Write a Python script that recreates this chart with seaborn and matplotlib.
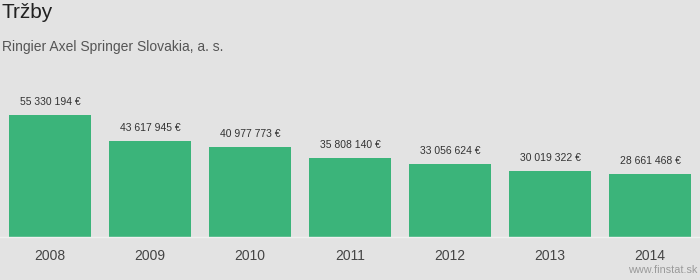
import matplotlib
matplotlib.use("Agg")
import matplotlib.pyplot as plt
import seaborn as sns
import pandas as pd

years = ["2008", "2009", "2010", "2011", "2012", "2013", "2014"]
revenues = [55330194, 43617945, 40977773, 35808140, 33056624, 30019322, 28661468]
value_labels = ["55 330 194 €", "43 617 945 €", "40 977 773 €", "35 808 140 €",
                "33 056 624 €", "30 019 322 €", "28 661 468 €"]
title = "Tržby"
subtitle = "Ringier Axel Springer Slovakia, a. s."
source = "www.finstat.sk"

bg = "#e3e3e3"
bar_color = "#3bb47a"

sns.set_theme(style="white")
plt.rcParams['font.family'] = ['Liberation Sans', 'DejaVu Sans']

df = pd.DataFrame({"year": years, "value": revenues})

fig = plt.figure(figsize=(7, 2.8), dpi=100, facecolor=bg)
ax = fig.add_axes([0, 43 / 280, 1, 132 / 280])
ax.set_facecolor(bg)
sns.barplot(data=df, x="year", y="value", color=bar_color, width=0.82,
            saturation=1, linewidth=0, edgecolor="none", ax=ax)
ax.set_ylim(0, 60e6)
ax.set_xlim(-0.5, len(years) - 0.5)
for s in ["top", "right", "left"]:
    ax.spines[s].set_visible(False)
ax.spines["bottom"].set_color("#f0f0f0")
ax.spines["bottom"].set_linewidth(1)
ax.set_yticks([])
ax.set_xlabel("")
ax.set_ylabel("")
ax.tick_params(axis="x", length=0, pad=9, labelsize=10, labelcolor="#444444")

for i, (v, lab) in enumerate(zip(revenues, value_labels)):
    ax.annotate(lab, (i, v), xytext=(0, 6), textcoords="offset points",
                ha="center", va="bottom", fontsize=7.5, color="#333333")

fig.text(2 / 700, 1 - 12 / 280, title, fontsize=15, color="#222222",
         ha="left", va="center")
fig.text(2 / 700, 1 - 47 / 280, subtitle, fontsize=10, color="#555555",
         ha="left", va="center")
fig.text(1 - 3 / 700, 1 - 270 / 280, source, fontsize=7.8, color="#9a9a9a",
         ha="right", va="center")

fig.savefig("out.png", dpi=100, facecolor=bg)
